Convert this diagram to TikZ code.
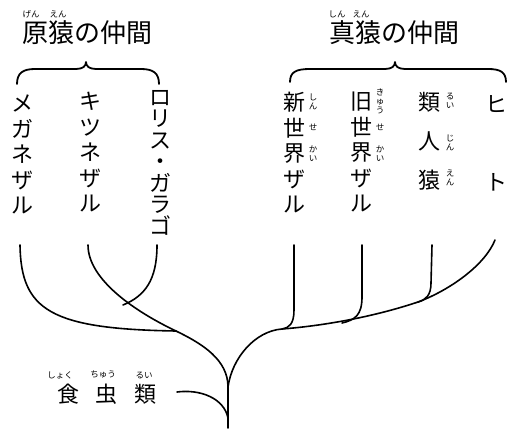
\documentclass[tikz,border=0pt]{standalone}
\usepackage{fontspec}
\newfontfamily\cjk{Noto Sans CJK JP}
\begin{document}
\setlength{\lineskiplimit}{-50pt}
\begin{tikzpicture}[x=1pt,y=-1pt,
  vlab/.style={font=\cjk\fontsize{22}{25.5}\selectfont, align=center, inner sep=0pt, anchor=north},
  ruby/.style={font=\cjk\fontsize{8.5}{9}\selectfont, align=center, inner sep=0pt},
  head/.style={font=\cjk\fontsize{26}{30}\selectfont, inner sep=0pt, anchor=base},
  branch/.style={line width=1.6pt, line cap=round},
  bracestyle/.style={line width=1.8pt, line cap=round, line join=round}]
\useasboundingbox (0,0) rectangle (513,428);

% headings
\node[head] (gen) at (87.5,43) {原猿の仲間};
\node[ruby] (genr1) at (31,14) {げん};
\node[ruby] (genr2) at (58,14) {えん};
\node[head] (shin) at (394,43) {真猿の仲間};
\node[ruby] (shinr1) at (337,14) {しん};
\node[ruby] (shinr2) at (361,14) {えん};

% braces
\coordinate (bL1) at (17,84); \coordinate (bLt) at (86,62); \coordinate (bL2) at (159,84);
\draw[bracestyle] (bL1) .. controls (17,73) and (23,69) .. (35,69) -- (76,69)
  .. controls (83,69) and (86,66) .. (bLt) .. controls (86,66) and (89,69) .. (96,69)
  -- (141,69) .. controls (153,69) and (159,73) .. (bL2);
\coordinate (bR1) at (290,82); \coordinate (bRt) at (395,62); \coordinate (bR2) at (506,82);
\draw[bracestyle] (bR1) .. controls (290,72) and (296,69) .. (310,69) -- (385,69)
  .. controls (392,69) and (395,66) .. (bRt) .. controls (395,66) and (398,69) .. (405,69)
  -- (488,69) .. controls (500,69) and (506,72) .. (bR2);

% vertical labels
\node[vlab] (meg) at (23,95) {メ\\ガ\\ネ\\ザ\\ル};
\node[vlab] (kit) at (90,92) {キ\\ツ\\ネ\\ザ\\ル};
\node[vlab, font=\cjk\fontsize{22}{21.5}\selectfont] (lor) at (160,90) {ロ\\リ\\ス\\・\\ガ\\ラ\\ゴ};
\node[vlab] (nw) at (294,92) {新\\世\\界\\ザ\\ル};
\node[vlab] (ow) at (361,92) {旧\\世\\界\\ザ\\ル};
\node[vlab, font=\cjk\fontsize{22}{39}\selectfont] (ape) at (429,92) {類\\人\\猿};
\node[vlab, font=\cjk\fontsize{22}{78}\selectfont] (hito) at (496,95) {ヒ\\ト};

% ruby for vertical labels
\node[ruby] (nwr1) at (313,102) {し\\ん};
\node[ruby] (nwr2) at (313,127) {せ};
\node[ruby] (nwr3) at (313,154) {か\\い};
\node[ruby] (owr1) at (380,101) {き\\ゅ\\う};
\node[ruby] (owr2) at (380,127) {せ};
\node[ruby] (owr3) at (380,154) {か\\い};
\node[ruby] (aper1) at (450,101) {る\\い};
\node[ruby] (aper2) at (450,143) {じ\\ん};
\node[ruby] (aper3) at (450,178) {え\\ん};

% insectivores
\node[font=\cjk\fontsize{22}{26}\selectfont, inner sep=0pt, anchor=base] (ins) at (107,402) {食\hspace{17pt}虫\hspace{17pt}類};
\node[ruby] (insr1) at (60,375) {しょく};
\node[ruby] (insr2) at (103,375) {ちゅう};
\node[ruby] (insr3) at (144,375) {るい};

% tree coordinates
\coordinate (root) at (228,428);
\coordinate (J0) at (228,387);
\coordinate (JI) at (228,418);
\coordinate (tI) at (177,392);
\coordinate (JL) at (176,331);
\coordinate (JK) at (123,305);
\coordinate (tM) at (20,245);
\coordinate (tK) at (88,245);
\coordinate (tL) at (157,245);
\coordinate (JR1) at (282,329);
\coordinate (JR2) at (342,323);
\coordinate (JR3) at (418,302);
\coordinate (tS) at (294,245);
\coordinate (tO) at (362,245);
\coordinate (tA) at (432,245);
\coordinate (tH) at (495,240);

% tree
\draw[branch] (root) -- (J0);
\draw[branch] (tI) .. controls (200,389) and (224,398) .. (JI);
\draw[branch] (J0) .. controls (228,360) and (203,344) .. (JL)
  .. controls (136,312) and (88,280) .. (tK);
\draw[branch] (tM) .. controls (21,310) and (50,329) .. (JL);
\draw[branch] (tL) .. controls (157,280) and (145,296) .. (JK);
\draw[branch] (J0) .. controls (232,358) and (255,331) .. (JR1)
  .. controls (320,326) and (370,318) .. (JR3)
  .. controls (450,290) and (485,265) .. (tH);
\draw[branch] (tS) -- (294,310) .. controls (294,324) and (289,328) .. (JR1);
\draw[branch] (tO) -- (362,297) .. controls (362,315) and (355,320) .. (JR2);
\draw[branch] (tA) -- (431,283) .. controls (431,295) and (426,300) .. (JR3);
\end{tikzpicture}
\end{document}
